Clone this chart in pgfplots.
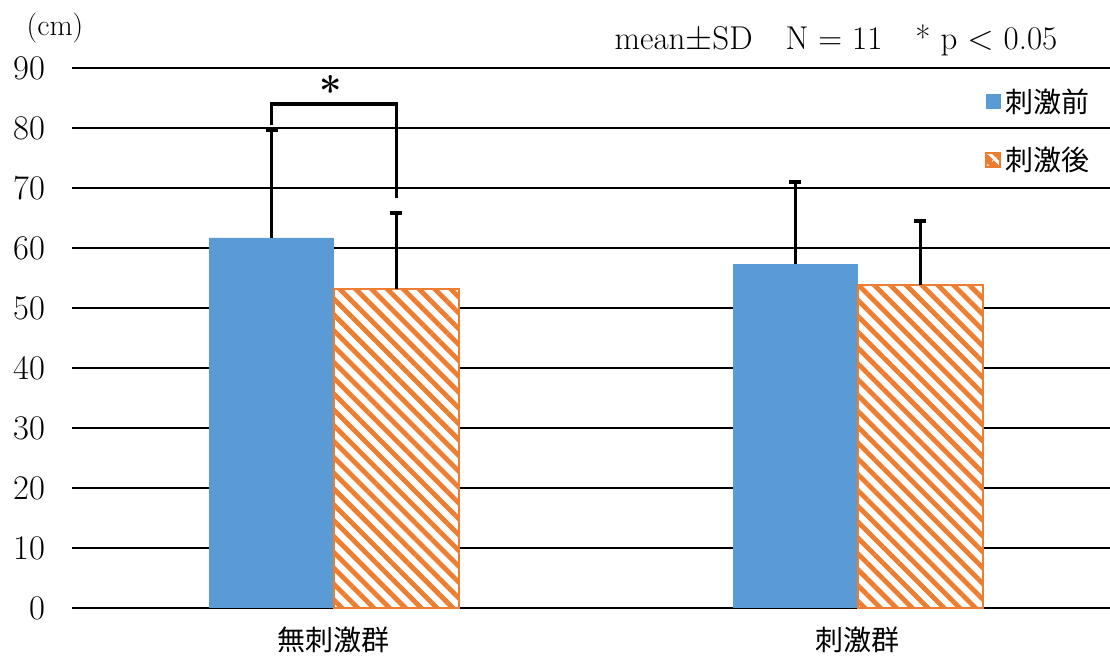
\documentclass[border=0pt]{standalone}
\usepackage{pgfplots}
\pgfplotsset{compat=1.18}
\usepackage{pgfplotstable}
\usepackage{fontspec}
\newfontfamily\jp{Noto Sans CJK JP}
\usetikzlibrary{patterns.meta}
\definecolor{cblue}{HTML}{5B9BD5}
\definecolor{corange}{HTML}{ED7D31}

\pgfplotstableread{
x y e
0 61.67 18.0
1 57.33 13.67
}\before
\pgfplotstableread{
x y e
0 53.17 12.67
1 53.83 10.67
}\after

\begin{document}
\begin{tikzpicture}
\begin{axis}[
  scale only axis,
  width=519pt, height=270pt,
  xmin=-0.5, xmax=1.481,
  ymin=0, ymax=90,
  ytick={0,10,...,90},
  xtick={0,1},
  xticklabels={無刺激群,刺激群},
  axis line style={draw=none},
  major tick length=0pt,
  ymajorgrids,
  grid style={black, line width=1pt},
  ybar=0pt,
  bar width=0.2385,
  tick label style={font=\fontsize{16.5}{18}\selectfont},
  yticklabel style={anchor=east, xshift=-10pt},
  xticklabel style={font=\jp\fontsize{14}{16}\selectfont, yshift=-6pt},
  legend style={at={(1,1)}, anchor=north east, draw=none, fill=none,
    font=\jp\fontsize{14}{16}\selectfont, row sep=12pt, xshift=-5pt, yshift=-6pt,
    /tikz/every even column/.append style={column sep=2pt}},
  legend cell align=left,
  clip=false,
]
\addplot+[draw=none, fill=cblue,
  legend image code/.code={\fill[cblue] (0pt,-3.75pt) rectangle (7.5pt,3.75pt);},
  error bars/.cd, y dir=plus, y explicit, error mark=|,
  error bar style={line width=1.5pt, black},
  error mark options={line width=2pt, mark size=3pt, black}]
  table[x=x, y=y, y error=e] {\before};
\addlegendentry{刺激前}
\addplot+[draw=corange, line width=1pt, fill=white,
  postaction={pattern={Lines[angle=-45, distance=5.6pt, line width=2.4pt]}, pattern color=corange},
  legend image code/.code={\draw[corange, line width=1pt, fill=white, postaction={pattern={Lines[angle=-45, distance=4pt, line width=2pt]}, pattern color=corange}] (0pt,-3.5pt) rectangle (7pt,3.5pt);},
  error bars/.cd, y dir=plus, y explicit, error mark=|,
  error bar style={line width=1.5pt, black},
  error mark options={line width=2pt, mark size=3pt, black}]
  table[x=x, y=y, y error=e] {\after};
\addlegendentry{刺激後}
\draw[black, line width=1.7pt] (axis cs:-0.11925,80.5) -- (axis cs:-0.11925,84) -- (axis cs:0.11925,84) -- (axis cs:0.11925,68.3);
\node[font=\bfseries\fontsize{20}{22}\selectfont] at (axis cs:-0.006,86.2) {*};
\coordinate (sw) at (rel axis cs:0,0);
\coordinate (ne) at (rel axis cs:1,1);
\coordinate (nw) at (rel axis cs:0,1);
\end{axis}
\node[font=\fontsize{15}{17}\selectfont] at ([shift={(-8.5pt,20pt)}]nw) {(cm)};
\node[font=\fontsize{16.5}{18}\selectfont] at ([shift={(-137pt,14pt)}]ne) {mean$\pm$SD\quad N = 11\quad * p $<$ 0.05};
\pgfresetboundingbox
\path[use as bounding box] ([shift={(-36pt,-27pt)}]sw) rectangle ([shift={(0pt,34pt)}]ne);
\end{tikzpicture}
\end{document}
